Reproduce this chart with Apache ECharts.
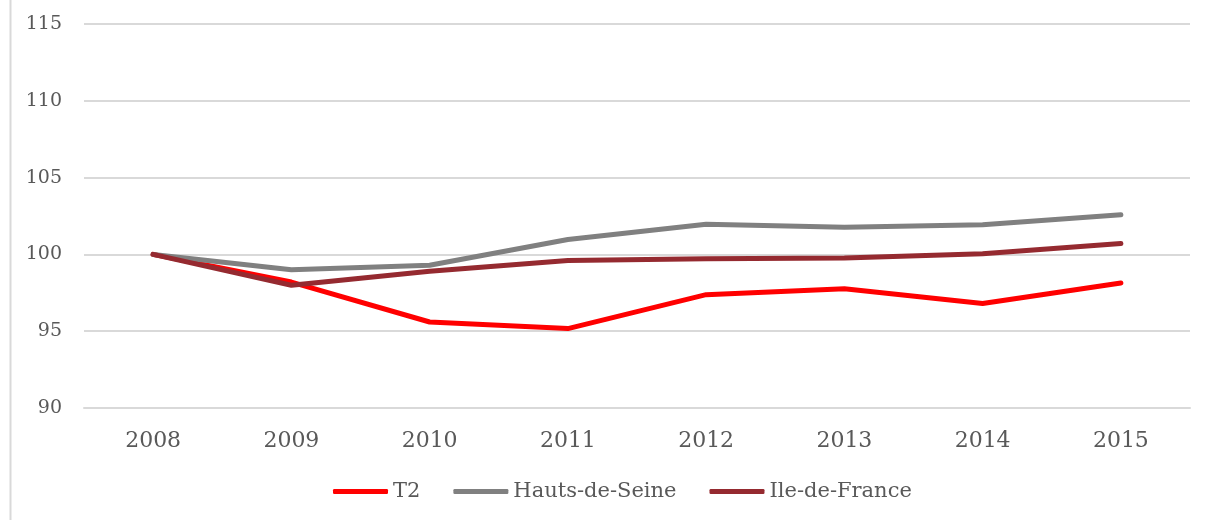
<!DOCTYPE html>
<html>
<head>
<meta charset="utf-8">
<title>Indice 2008 = 100</title>
<script src="https://cdn.jsdelivr.net/npm/echarts@6/dist/echarts.min.js"></script>
<style>
  html, body { margin: 0; padding: 0; background: #ffffff; }
  #chart { width: 1205px; height: 520px; }
</style>
</head>
<body>
<div id="chart"></div>
<script>
// Years on the horizontal axis
const years = ['2008', '2009', '2010', '2011', '2012', '2013', '2014', '2015'];

// Index values, base 100 in 2008
const t2 = [100, 98.2, 95.6, 95.17, 97.38, 97.77, 96.8, 98.14];
const hautsDeSeine = [100, 99.0, 99.29, 100.97, 101.96, 101.77, 101.93, 102.58];
const ileDeFrance = [100, 97.99, 98.9, 99.61, 99.72, 99.76, 100.04, 100.71];

const seriesNames = ['T2', 'Hauts-de-Seine', 'Ile-de-France'];
const seriesColors = ['#ff0000', '#808080', '#952a30'];

const FONT = 'DejaVu Serif';
const TEXT = '#595959';

const chart = echarts.init(document.getElementById('chart'), null, { renderer: 'canvas' });

function line(name, data, color) {
  return {
    name: name,
    type: 'line',
    data: data,
    symbol: 'none',
    smooth: false,
    lineStyle: { color: color, width: 5, cap: 'round', join: 'round' },
    itemStyle: { color: color }
  };
}

chart.setOption({
  animation: false,
  color: seriesColors,
  grid: { left: 84, right: 15, top: 24, bottom: 112, containLabel: false },
  graphic: [{
    type: 'line',
    shape: { x1: 10.5, y1: 0, x2: 10.5, y2: 520 },
    style: { stroke: '#d9d9d9', lineWidth: 2 }
  }],
  xAxis: {
    type: 'category',
    data: years,
    boundaryGap: true,
    axisLine: { show: true, lineStyle: { color: '#d9d9d9', width: 2 } },
    axisTick: { show: false },
    axisLabel: { color: TEXT, fontFamily: FONT, fontSize: 22, margin: 22 }
  },
  yAxis: {
    type: 'value',
    min: 90,
    max: 115,
    interval: 5,
    axisLine: { show: false },
    axisTick: { show: false },
    splitLine: { lineStyle: { color: '#d9d9d9', width: 2 } },
    axisLabel: { color: TEXT, fontFamily: FONT, fontSize: 19, margin: 22 }
  },
  legend: {
    data: seriesNames,
    bottom: 13,
    left: 328,
    icon: 'roundRect',
    itemWidth: 55,
    itemHeight: 5,
    itemGap: 33,
    textStyle: { color: TEXT, fontFamily: FONT, fontSize: 21, padding: [0, 0, 0, 0] }
  },
  series: [
    line(seriesNames[0], t2, seriesColors[0]),
    line(seriesNames[1], hautsDeSeine, seriesColors[1]),
    line(seriesNames[2], ileDeFrance, seriesColors[2])
  ]
});
</script>
</body>
</html>
